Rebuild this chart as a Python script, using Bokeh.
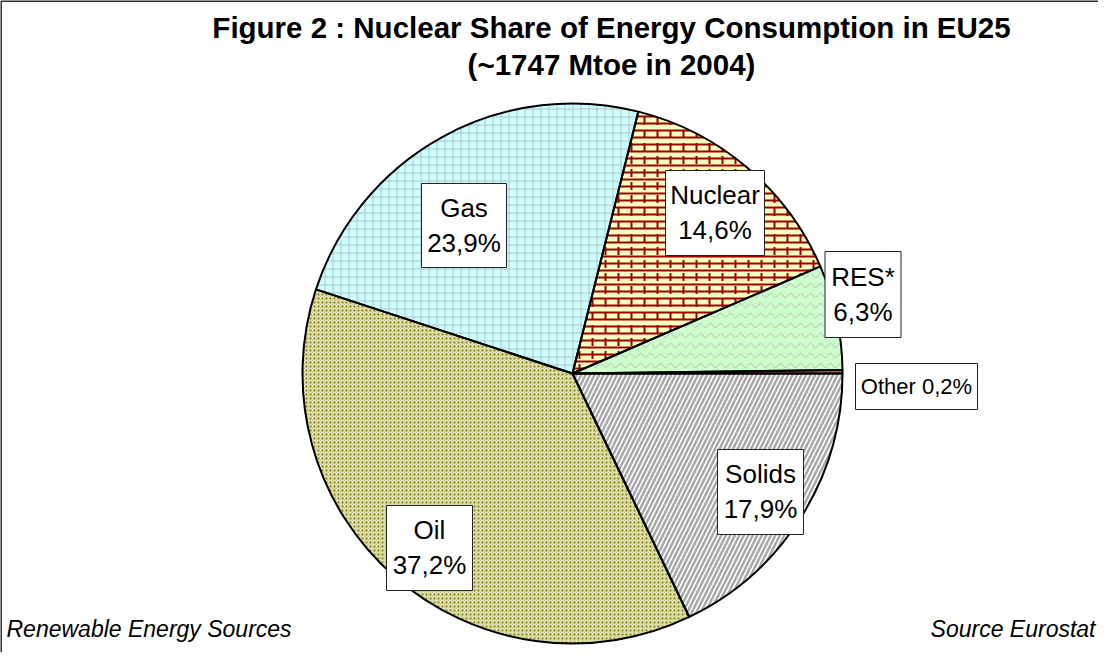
import math
from bokeh.plotting import figure
from bokeh.models import Range1d
from bokeh.core.properties import value
from bokeh.embed import file_html
from bokeh.resources import INLINE

# ---- data (counter-clockwise from 3 o'clock) ----
categories = ["Other", "RES*", "Nuclear", "Gas", "Oil", "Solids"]
shares = [0.2, 6.3, 14.6, 23.9, 37.2, 17.9]
title_lines = ["Figure 2 : Nuclear Share of Energy Consumption in EU25",
               "(~1747 Mtoe in 2004)"]
footer_left = "Renewable Energy Sources"
footer_right = "Source Eurostat"

# ---- layout / styles ----
FONT = value("Liberation Sans")
CX, CY, R = 580, -381, 270

styles = {
    "Other":   dict(fill_color="#FF8080"),
    "RES*":    dict(fill_color="#CCFFCC", hatch_pattern="horizontal_wave", hatch_color="#B8B8B8",
                    hatch_scale=10, hatch_weight=1),
    "Nuclear": dict(fill_color="#FFFFC0", hatch_pattern="horizontal_line", hatch_color="#990000",
                    hatch_scale=7, hatch_weight=2),
    "Gas":     dict(fill_color="#CCFFFF", hatch_pattern="cross", hatch_color="#B0C4C4",
                    hatch_scale=8, hatch_weight=1),
    "Oil":     dict(fill_color="#DADAAA", hatch_pattern="dot", hatch_color="#808000",
                    hatch_scale=4, hatch_weight=3),
    "Solids":  dict(fill_color="#FFFFFF", hatch_pattern="right_diagonal_line", hatch_color="#A8A8A8",
                    hatch_scale=9, hatch_weight=2.5),
}
# label boxes: (center x, center y (page px), width, height)
boxes = {
    "Other":   (924, 394, 122, 46),
    "RES*":    (870.5, 302, 76, 86),
    "Nuclear": (722.5, 220.5, 99, 85),
    "Gas":     (471.5, 233, 85, 84),
    "Oil":     (437, 555.5, 86, 85),
    "Solids":  (768, 499.5, 86, 85),
}

p = figure(width=1098, height=652, x_range=Range1d(8, 1106), y_range=Range1d(-660, -8),
           output_backend="svg", toolbar_location=None, min_border=0,
           x_axis_type=None, y_axis_type=None)
p.grid.visible = False
p.outline_line_color = None
p.background_fill_color = "white"
p.border_fill_color = "white"

# frame border (top & left visible)
p.line(x=[8.5, 8.5, 1106], y=[-660, -8.5, -8.5], line_color="#333333", line_width=2)

total = sum(shares)
a0 = 0.0
for cat, s in zip(categories, shares):
    a1 = a0 + 2 * math.pi * s / total
    st = styles[cat]
    p.wedge(x=CX, y=CY, radius=R, start_angle=a0, end_angle=a1, direction="anticlock",
            line_color=None, **st)
    if cat == "Nuclear":
        # vertical joints of the brick pattern
        p.wedge(x=CX, y=CY, radius=R, start_angle=a0, end_angle=a1, direction="anticlock",
                fill_alpha=0, line_color=None, hatch_pattern="vertical_dash",
                hatch_color="#990000", hatch_scale=13, hatch_weight=2)
    a0 = a1

# slice outlines on top
a0 = 0.0
for cat, s in zip(categories, shares):
    a1 = a0 + 2 * math.pi * s / total
    p.wedge(x=CX, y=CY, radius=R, start_angle=a0, end_angle=a1, direction="anticlock",
            fill_alpha=0, line_color="black", line_width=2)
    a0 = a1

# labels
for cat, s in zip(categories, shares):
    bx, by, bw, bh = boxes[cat]
    pct = f"{s:.1f}".replace(".", ",") + "%"
    p.rect(x=bx, y=-by, width=bw, height=bh, fill_color="white", line_color="#222222", line_width=1)
    if cat == "Other":
        p.text(x=[bx], y=[-by], text=[f"{cat} {pct}"], text_font=FONT, text_font_size="22px",
               text_align="center", text_baseline="middle", text_color="black")
    else:
        p.text(x=[bx, bx], y=[-(by - 18), -(by + 17)], text=[cat, pct], text_font=FONT,
               text_font_size="26px", text_align="center", text_baseline="middle", text_color="black")

# title
p.text(x=[619, 619], y=[-35, -72], text=title_lines, text_font=FONT, text_font_size="29.5px",
       text_font_style="bold", text_align="center", text_baseline="middle", text_color="black")

# footers
p.text(x=[14], y=[-636], text=[footer_left], text_font=FONT, text_font_size="23px",
       text_font_style="italic", text_align="left", text_baseline="middle", text_color="black")
p.text(x=[1103], y=[-636], text=[footer_right], text_font=FONT, text_font_size="23px",
       text_font_style="italic", text_align="right", text_baseline="middle", text_color="black")

open("out.html", "w").write(file_html(p, INLINE))
